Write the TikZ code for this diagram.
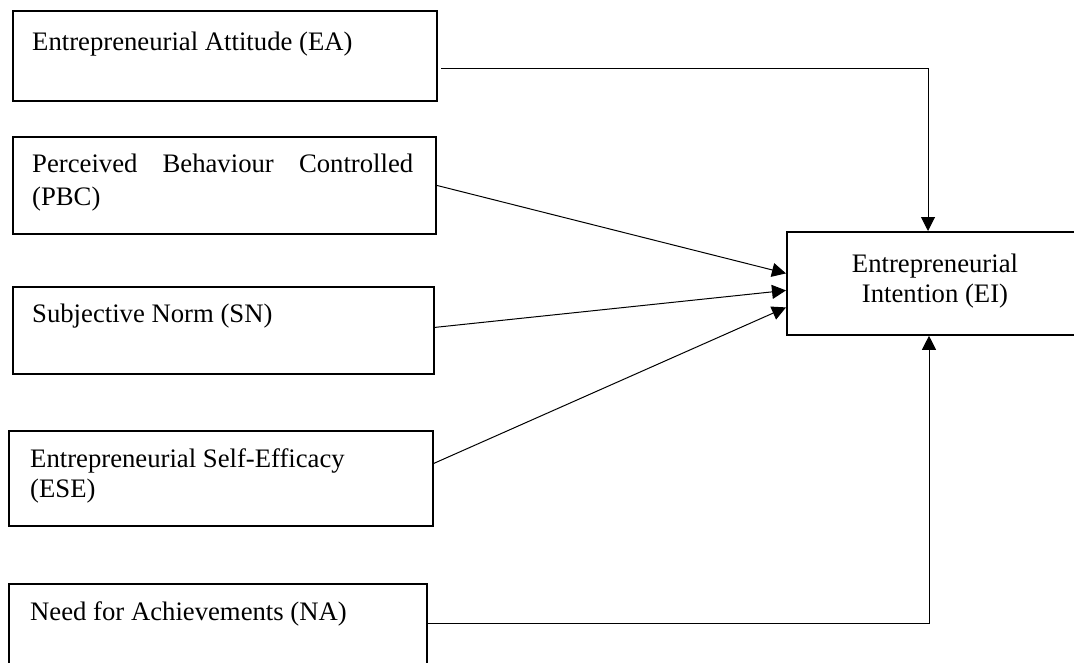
\documentclass[tikz,border=0pt]{standalone}
\usepackage{fontspec}
\setmainfont{Liberation Serif}
\usetikzlibrary{arrows.meta}
\begin{document}
\begin{tikzpicture}[x=1pt,y=-1pt,
  box/.style={draw,line width=1.8pt,rectangle,inner sep=0pt,anchor=north west},
  txt/.style={anchor=base west,inner sep=0pt,font=\fontsize{26.7}{31}\selectfont},
  ctxt/.style={anchor=base,inner sep=0pt,font=\fontsize{26.7}{31}\selectfont},
  conn/.style={line width=1pt,-{Triangle[length=14pt,width=14pt]}}]
\useasboundingbox (0,0) rectangle (1074,662);
\clip (0,0) rectangle (1074,662);
% boxes
\node[box,minimum width=424pt,minimum height=90pt] (ea) at (12,10) {};
\node[box,minimum width=423pt,minimum height=97pt] (pbc) at (12,136) {};
\node[box,minimum width=421pt,minimum height=87pt] (sn) at (12,286) {};
\node[box,minimum width=424pt,minimum height=95pt] (ese) at (8,430) {};
\node[box,minimum width=418pt,minimum height=100pt] (na) at (8,583) {};
\node[box,minimum width=300pt,minimum height=103pt] (ei) at (786,231) {};
% texts
\node[txt] (tea) at (32,50) {Entrepreneurial Attitude (EA)};
\node[txt,text width=381pt] (tpbc1) at (32,172) {Perceived\hfill Behaviour\hfill Controlled};
\node[txt] (tpbc2) at (32,205) {(PBC)};
\node[txt] (tsn) at (32,322) {Subjective Norm (SN)};
\node[txt] (tese1) at (30,467) {Entrepreneurial Self-Efficacy};
\node[txt] (tese2) at (30,497) {(ESE)};
\node[txt] (tna) at (30,620) {Need for Achievements (NA)};
\node[ctxt] (tei1) at (935,272) {Entrepreneurial};
\node[ctxt] (tei2) at (935,302) {Intention (EI)};
% connectors
\coordinate (eastart) at (441,68);
\coordinate (eaturn) at (928,68);
\coordinate (naturn) at (929,623);
\draw[conn] (eastart) -- (eaturn) -- (ei.north -| eaturn);
\draw[conn] (pbc.east) -- ([yshift=10pt]ei.west);
\draw[conn] ([yshift=3pt]sn.east) -- ([yshift=-7pt]ei.west);
\draw[conn] ([yshift=15pt]ese.east) -- ([yshift=-24pt]ei.west);
\draw[conn] (na.east |- naturn) -- (naturn) -- (ei.south -| naturn);
\end{tikzpicture}
\end{document}
